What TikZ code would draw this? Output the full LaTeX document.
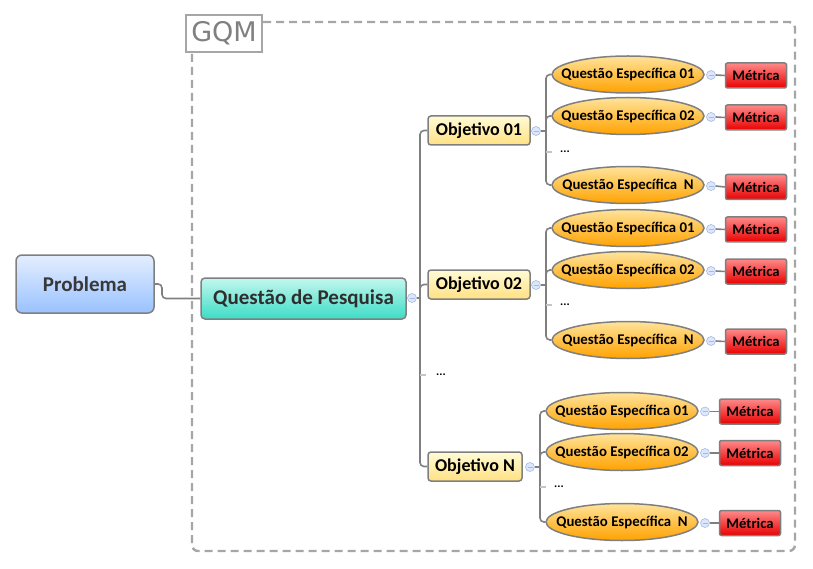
\documentclass[tikz,border=0pt]{standalone}
\usepackage{fontspec}
\setmainfont{Carlito}
\newfontfamily\gqmfont{DejaVu Sans}
\usetikzlibrary{shapes.geometric}

\definecolor{linegray}{HTML}{7F7F7F}
\definecolor{framegray}{HTML}{A6A6A6}
\definecolor{probtop}{HTML}{E4EEFF}
\definecolor{probbot}{HTML}{99C2FF}
\definecolor{pesqtop}{HTML}{C2F7EE}
\definecolor{pesqbot}{HTML}{3DDCC6}
\definecolor{objtop}{HTML}{FFFBD6}
\definecolor{objbot}{HTML}{FFE183}
\definecolor{questop}{HTML}{FFE39A}
\definecolor{quesbot}{HTML}{FFA200}
\definecolor{mettop}{HTML}{FF8A8A}
\definecolor{metbot}{HTML}{E80000}
\definecolor{togfill}{HTML}{DDE7FB}
\definecolor{togline}{HTML}{A4BAE4}

\tikzset{
  conn/.style={draw=linegray, line width=1.6pt, rounded corners=4pt},
  tick/.style={draw=linegray!45, line width=1.4pt},
  toggle/.style={circle, minimum size=9pt, inner sep=0pt, fill=togfill, draw=togline, line width=0.6pt,
    path picture={\draw[togline, line width=0.7pt]
      ([xshift=-2.5pt]path picture bounding box.center) -- ([xshift=2.5pt]path picture bounding box.center);}},
  probbox/.style={rectangle, rounded corners=6pt, draw=linegray, line width=1.5pt,
    top color=probtop, bottom color=probbot, minimum width=138pt, minimum height=58pt,
    inner sep=0pt, text=black!78, font=\bfseries\fontsize{21}{24}\selectfont},
  pesqbox/.style={rectangle, rounded corners=4pt, draw=linegray, line width=1.5pt,
    top color=pesqtop, bottom color=pesqbot, minimum width=205pt, minimum height=41pt,
    inner sep=0pt, text=black!82, font=\bfseries\fontsize{21}{24}\selectfont},
  objbox/.style={rectangle, rounded corners=3pt, draw=linegray, line width=1.5pt,
    top color=objtop, bottom color=objbot, minimum height=29pt,
    inner sep=0pt, font=\bfseries\fontsize{18}{20}\selectfont},
  quesbox/.style={ellipse, draw=linegray, line width=1.5pt,
    top color=questop, bottom color=quesbot, minimum width=152pt, minimum height=37pt,
    inner xsep=-35pt, inner ysep=0pt, font=\bfseries\fontsize{14.8}{16}\selectfont},
  metbox/.style={rectangle, rounded corners=2pt, draw=linegray, line width=1.5pt,
    top color=mettop, bottom color=metbot, minimum width=61pt, minimum height=25pt,
    inner sep=0pt, font=\bfseries\fontsize{14.6}{16}\selectfont},
  dotsnode/.style={anchor=west, inner sep=0pt, font=\bfseries\fontsize{12}{14}\selectfont},
  frame/.style={draw=framegray, line width=2.4pt, dash pattern=on 8pt off 5pt, rounded corners=6pt},
  gqmbox/.style={rectangle, fill=white, draw=framegray, line width=2.4pt, minimum width=76pt,
    minimum height=37pt, inner sep=0pt, text=black!50, font=\gqmfont\fontsize{27}{29}\selectfont}
}

\begin{document}
\begin{tikzpicture}[x=1pt, y=-1pt]
\useasboundingbox (0,0) rectangle (813,569);

% problema e questao de pesquisa
\node[probbox] (prob) at (85,284) {Problema};
\node[pesqbox] (pesq) at (303.5,298.5) {Questão de Pesquisa};
\node[toggle] (t0) at (412,298) {};
\coordinate (pk) at (162,284);
\draw[conn] (prob.east) -- (pk) |- (pesq.west);

% objetivos
\node[objbox, minimum width=102pt] (o1) at (479,130.5) {Objetivo 01};
\node[objbox, minimum width=102pt] (o2) at (479,284.5) {Objetivo 02};
\node[objbox, minimum width=94pt] (on) at (475,466.5) {Objetivo N};
\node[toggle] (t1) at (536,131) {};
\node[toggle] (t2) at (536,285) {};
\node[toggle] (tn) at (530,467) {};

\coordinate (k0) at (420,298);
\coordinate (d0) at (420,375);
\node[dotsnode] (dots0) at (436,375) {...};
\draw[conn] (t0.east) -- (k0);
\draw[conn] (k0) |- (o1.west);
\draw[conn] (k0) |- (o2.west);
\draw[conn] (k0) |- (on.west);
\draw[tick] (d0) -- (dots0.west -| 426,0);

% objetivo 01
\node[quesbox] (q11) at (628,74.5) {Questão Específica 01};
\node[quesbox] (q12) at (628,116) {Questão Específica 02};
\node[quesbox] (q1n) at (628,185) {Questão Específica~ N};
\node[dotsnode] (dots1) at (560,152) {...};
\node[toggle] (t11) at (711,75) {};
\node[toggle] (t12) at (711,117) {};
\node[toggle] (t1n) at (711,186) {};
\node[metbox] (m11) at (756,75.5) {Métrica};
\node[metbox] (m12) at (756,117.5) {Métrica};
\node[metbox] (m1n) at (756,187) {Métrica};
\coordinate (k1) at (546,131);
\coordinate (e1) at (546,152);
\draw[conn] (t1.east) -- (k1);
\draw[conn] (k1) |- (q11.west);
\draw[conn] (k1) |- (q12.west);
\draw[conn] (k1) |- (q1n.west);
\draw[tick] (e1) -- (dots1.west -| 552,0);
\draw[conn] (t11.east) -- (m11.west);
\draw[conn] (t12.east) -- (m12.west);
\draw[conn] (t1n.east) -- (m1n.west);

% objetivo 02
\node[quesbox] (q21) at (628,228) {Questão Específica 01};
\node[quesbox] (q22) at (628,270) {Questão Específica 02};
\node[quesbox] (q2n) at (628,340) {Questão Específica~ N};
\node[dotsnode] (dots2) at (560,305) {...};
\node[toggle] (t21) at (711,229) {};
\node[toggle] (t22) at (711,271) {};
\node[toggle] (t2n) at (711,341) {};
\node[metbox] (m21) at (756,229.5) {Métrica};
\node[metbox] (m22) at (756,271.5) {Métrica};
\node[metbox] (m2n) at (756,341.5) {Métrica};
\coordinate (k2) at (546,285);
\coordinate (e2) at (546,305);
\draw[conn] (t2.east) -- (k2);
\draw[conn] (k2) |- (q21.west);
\draw[conn] (k2) |- (q22.west);
\draw[conn] (k2) |- (q2n.west);
\draw[tick] (e2) -- (dots2.west -| 552,0);
\draw[conn] (t21.east) -- (m21.west);
\draw[conn] (t22.east) -- (m22.west);
\draw[conn] (t2n.east) -- (m2n.west);

% objetivo N
\node[quesbox] (qn1) at (622,411) {Questão Específica 01};
\node[quesbox] (qn2) at (622,452) {Questão Específica 02};
\node[quesbox] (qnn) at (622,522) {Questão Específica~ N};
\node[dotsnode] (dotsn) at (554,487) {...};
\node[toggle] (tn1) at (705,411.5) {};
\node[toggle] (tn2) at (705,453) {};
\node[toggle] (tnn) at (705,523) {};
\node[metbox] (mn1) at (750,411.5) {Métrica};
\node[metbox] (mn2) at (750,453) {Métrica};
\node[metbox] (mnn) at (750,523) {Métrica};
\coordinate (kn) at (540,467);
\coordinate (en) at (540,487);
\draw[conn] (tn.east) -- (kn);
\draw[conn] (kn) |- (qn1.west);
\draw[conn] (kn) |- (qn2.west);
\draw[conn] (kn) |- (qnn.west);
\draw[tick] (en) -- (dotsn.west -| 546,0);
\draw[conn] (tn1.east) -- (mn1.west);
\draw[conn] (tn2.east) -- (mn2.west);
\draw[conn] (tnn.east) -- (mnn.west);

% moldura GQM
\draw[frame] (192,22) rectangle (795,551);
\node[gqmbox] (gqm) at (224,33.5) {GQM};
\end{tikzpicture}
\end{document}
